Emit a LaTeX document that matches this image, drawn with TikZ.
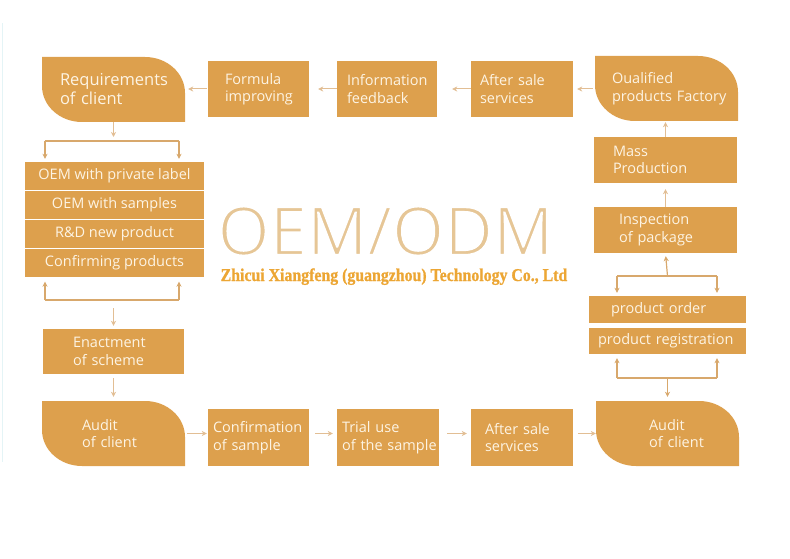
\documentclass[tikz,border=0pt]{standalone}
\usepackage{fontspec}
\setmainfont{Open Sans}
\newfontfamily\slabfont{Liberation Serif}[FakeStretch=0.88, FakeBold=1]
\usepackage{xcolor}
\usetikzlibrary{arrows.meta}
\definecolor{boxgold}{RGB}{221,160,77}
\definecolor{boxtext}{RGB}{253,244,228}
\definecolor{arrowtan}{RGB}{226,190,148}
\definecolor{bracketgold}{RGB}{216,168,108}
\definecolor{bigtan}{RGB}{230,198,150}
\definecolor{subgold}{RGB}{236,166,52}
\definecolor{edgecyan}{RGB}{228,244,246}
\lefthyphenmin=64
\newcommand\thinglyphs[1]{\special{pdf:literal direct 2 Tr 2 w 1 1 1 RG}#1\special{pdf:literal direct 0 Tr}}

\begin{document}
\begin{tikzpicture}[x=1pt,y=1pt,
  flat/.style={fill=boxgold, text=boxtext, align=left, inner ysep=0pt,
    font=\fontsize{14.5}{17.5}\selectfont},
  row/.style={flat, align=center, minimum width=179, minimum height=27.5, inner xsep=0pt},
  tab/.style={flat, fill=white, minimum height=65,
    path picture={\fill[boxgold] (path picture bounding box.north west)
      -- ([xshift=-40pt]path picture bounding box.north east)
      arc[start angle=90, end angle=0, x radius=40pt, y radius=36pt]
      -- (path picture bounding box.south east)
      -- ([xshift=40pt]path picture bounding box.south west)
      arc[start angle=270, end angle=180, x radius=40pt, y radius=36pt]
      -- cycle;}},
  arr/.style={draw=arrowtan, line width=1pt, -{Stealth[length=5pt, width=5pt, inset=1.5pt]}},
  brk/.style={draw=bracketgold, line width=1.2pt},
  brkarr/.style={brk, -{Stealth[length=5pt, width=5pt, inset=1.5pt]}}]

\useasboundingbox (0,0) rectangle (790,-559);
\draw[edgecyan, line width=1pt] (2,-23) -- (2,-462);

\node[tab, inner xsep=18pt, text width=107pt, font=\fontsize{16.5}{19}\selectfont] (req) at (113.5,-89.5) {Requirements\\of~client};
\node[flat, minimum height=56, inner xsep=17pt, text width=67pt] (formula) at (258.5,-89) {Formula\\improving};
\node[flat, minimum height=56, inner xsep=10pt, text width=80pt] (info) at (387,-89) {Information\\feedback};
\node[flat, minimum height=56, inner xsep=9pt, text width=84pt] (aftertop) at (522,-89) {After~sale\\services};
\node[tab, inner xsep=17pt, text width=109pt] (qual) at (666.5,-88.5) {Oualified\\products~Factory};

\node[flat, minimum height=46, inner xsep=19pt, text width=105pt] (mass) at (665.5,-160) {Mass\\Production};
\node[flat, minimum height=46, inner xsep=25pt, text width=93pt] (insp) at (665.5,-230) {Inspection\\of~package};
\node[flat, minimum height=27, inner xsep=22pt, text width=113pt] (order) at (667.5,-309.5) {product~order};
\node[flat, minimum height=26, inner xsep=9pt, text width=139pt] (regist) at (667.5,-341) {product~registration};

\node[row] (row1) at (114.5,-175.75) {OEM with private label};
\node[row] (row2) at (114.5,-204.75) {OEM with samples};
\node[row] (row3) at (114.5,-233.75) {R\&D new product};
\node[row] (row4) at (114.5,-262.75) {Confirming products};
\node[flat, minimum height=45, inner xsep=30pt, text width=81pt] (enact) at (113.5,-351.5) {Enactment\\of~scheme};

\node[tab, inner xsep=40pt, text width=63pt] (auditL) at (113.5,-433.5) {Audit\\of~client};
\node[flat, minimum height=57, inner xsep=5pt, text width=91pt] (confirm) at (258.5,-437.5) {Confirmation\\of~sample};
\node[flat, minimum height=57, inner xsep=5pt, text width=92pt] (trial) at (388,-437.5) {Trial~use\\of~the~sample};
\node[flat, minimum height=57, inner xsep=14pt, text width=74pt] (afterbot) at (522,-437.5) {After~sale\\services};
\node[tab, inner xsep=53pt, text width=37pt] (auditR) at (667.5,-433.5) {Audit\\of~client};

\node[text=bigtan, font=\fontsize{67}{67}\selectfont, anchor=base, inner sep=0pt, text depth=0pt] (title) at (385.5,-255) {\thinglyphs{OEM/ODM}};
\node[text=subgold, font=\slabfont\bfseries\fontsize{18}{18}\selectfont, anchor=base, inner sep=0pt] (maker) at (394,-281) {Zhicui Xiangfeng (guangzhou) Technology Co., Ltd};

\draw[arr, shorten <=1pt, shorten >=3pt] (formula.west) -- (formula.west -| req.east);
\draw[arr, shorten >=9pt] (info.west) -- (info.west -| formula.east);
\draw[arr, shorten >=15pt] (aftertop.west) -- (aftertop.west -| info.east);
\draw[arr, shorten <=2pt, shorten >=4pt] (aftertop.east -| qual.west) -- (aftertop.east);

\draw[arr, shorten <=2pt, shorten >=1pt] (auditL.east) -- (auditL.east -| confirm.west);
\draw[arr, shorten <=6pt, shorten >=4pt] (auditL.east -| confirm.east) -- (auditL.east -| trial.west);
\draw[arr, shorten <=8pt, shorten >=4pt] (auditL.east -| trial.east) -- (auditL.east -| afterbot.west);
\draw[arr, shorten <=5pt] (auditL.east -| afterbot.east) -- (auditL.east -| auditR.west);

\coordinate (lt-m) at (113.5,-141);
\coordinate (lt-a) at (45,-141);
\coordinate (lt-b) at (179,-141);
\coordinate (lb-m) at (113.5,-300);
\coordinate (lb-a) at (45,-300);
\coordinate (lb-b) at (179,-300);
\draw[arr, shorten >=4pt] (req.south) -- (lt-m);
\draw[brk] (lt-a) -- (lt-b);
\draw[brkarr, shorten >=3pt] (lt-a) -- (lt-a |- row1.north);
\draw[brkarr, shorten >=3pt] (lt-b) -- (lt-b |- row1.north);
\draw[brk] (lb-a) -- (lb-b);
\draw[brkarr, shorten >=5pt] (lb-a) -- (lb-a |- row4.south);
\draw[brkarr, shorten >=5pt] (lb-b) -- (lb-b |- row4.south);
\draw[arr, shorten <=8pt, shorten >=3pt] (lb-m) -- (enact.north);
\draw[arr, shorten <=4pt, shorten >=4pt] (enact.south) -- (auditL.north);

\coordinate (rt-m) at (667.5,-276);
\coordinate (rt-a) at (617,-276);
\coordinate (rt-b) at (717,-276);
\coordinate (rb-m) at (667.5,-378);
\coordinate (rb-a) at (617,-378);
\coordinate (rb-b) at (717,-378);
\draw[arr, shorten >=1pt] (mass.north) -- (mass.north |- qual.south);
\draw[arr, shorten >=6pt] (insp.north) -- (mass.south);
\draw[brkarr, shorten >=3pt] (rt-m) -- (insp.south);
\draw[brk] (rt-a) -- (rt-b);
\draw[brkarr, shorten >=3pt] (rt-a) -- (rt-a |- order.north);
\draw[brkarr, shorten >=3pt] (rt-b) -- (rt-b |- order.north);
\draw[brk] (rb-a) -- (rb-b);
\draw[brkarr, shorten >=4pt] (rb-a) -- (rb-a |- regist.south);
\draw[brkarr, shorten >=4pt] (rb-b) -- (rb-b |- regist.south);
\draw[brkarr, shorten >=4pt] (rb-m) -- (auditR.north);

\end{tikzpicture}
\end{document}
